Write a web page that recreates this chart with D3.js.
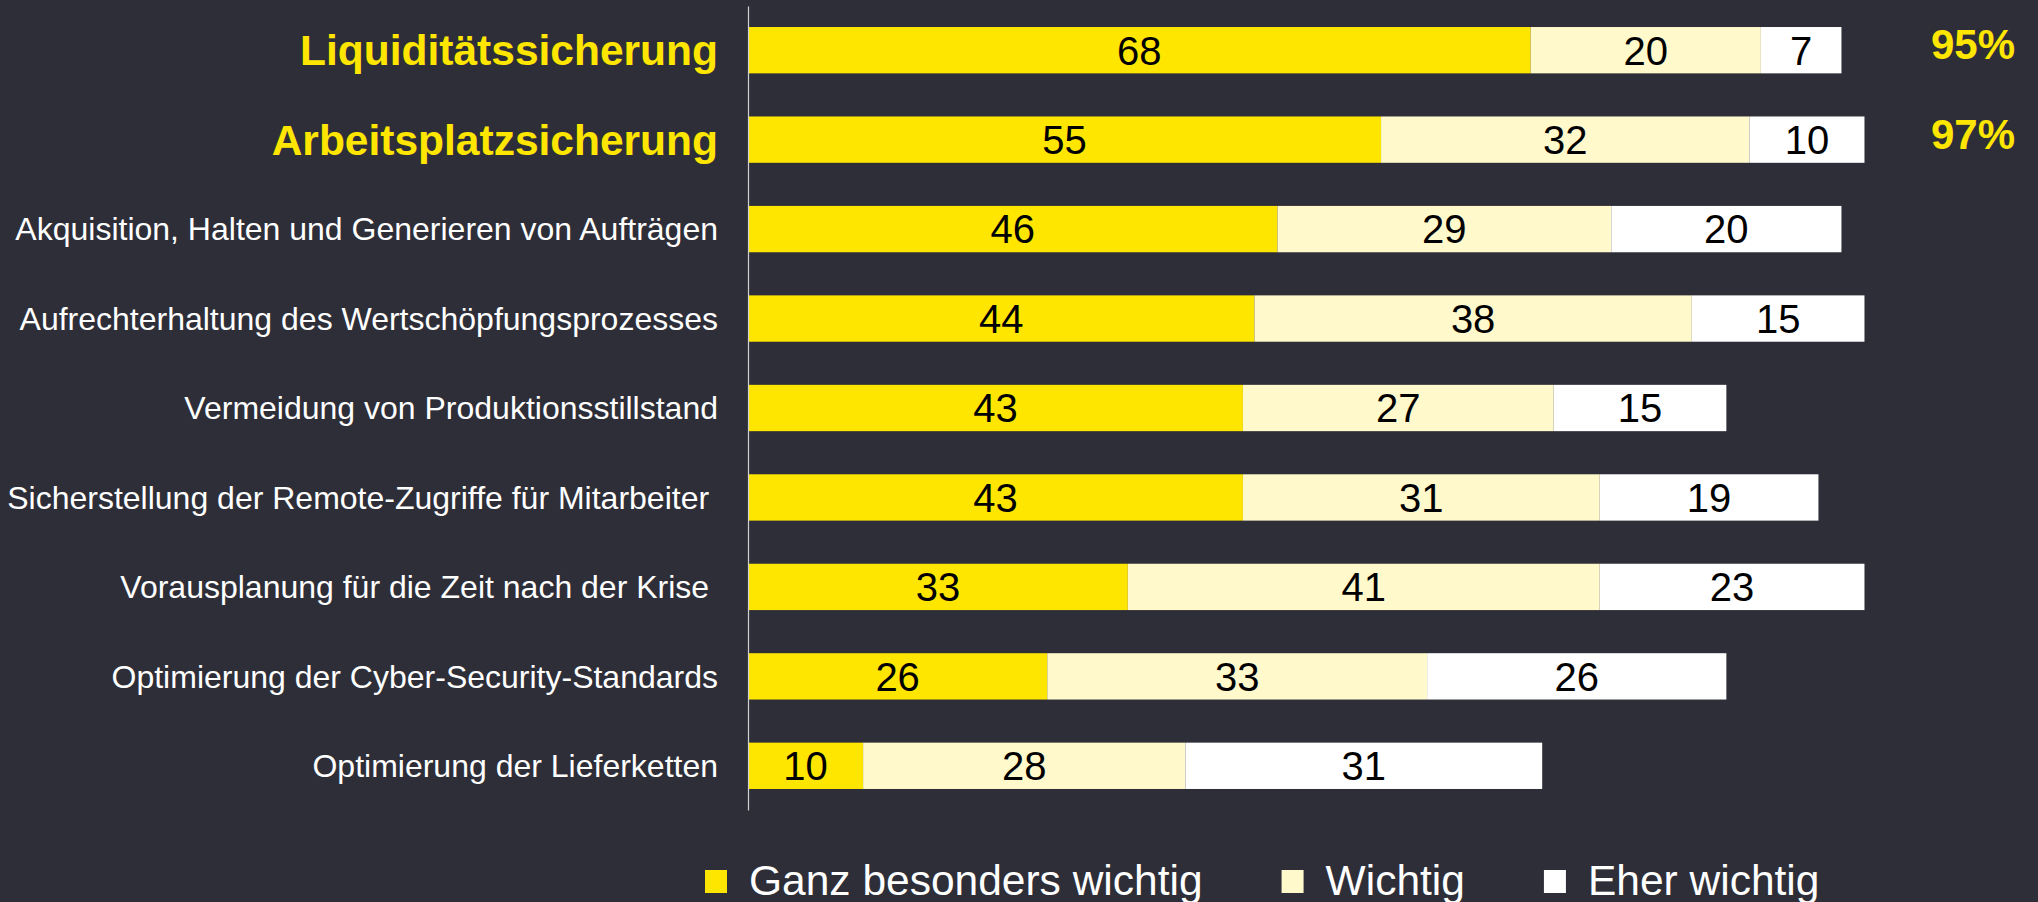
<!DOCTYPE html>
<html>
<head>
<meta charset="utf-8">
<script src="https://cdn.jsdelivr.net/npm/d3@7"></script>
<style>
  html, body { margin: 0; padding: 0; background: #2e2e38; }
  svg { display: block; }
  text { font-family: "Liberation Sans", Arial, sans-serif; white-space: pre; }
</style>
</head>
<body>
<div id="chart"></div>
<script>

var categories = [
  "Liquiditätssicherung",
  "Arbeitsplatzsicherung",
  "Akquisition, Halten und Generieren von Aufträgen",
  "Aufrechterhaltung des Wertschöpfungsprozesses",
  "Vermeidung von Produktionsstillstand",
  "Sicherstellung der Remote-Zugriffe für Mitarbeiter ",
  "Vorausplanung für die Zeit nach der Krise ",
  "Optimierung der Cyber-Security-Standards",
  "Optimierung der Lieferketten"
];
var highlighted = ["Liquiditätssicherung", "Arbeitsplatzsicherung"];
var ganzBesonders = [68, 55, 46, 44, 43, 43, 33, 26, 10];
var wichtig       = [20, 32, 29, 38, 27, 31, 41, 33, 28];
var eherWichtig   = [7, 10, 20, 15, 15, 19, 23, 26, 31];
var totalLabels   = ["95%", "97%"];
var seriesNames   = ["Ganz besonders wichtig", "Wichtig", "Eher wichtig"];

var width = 2038, height = 902;
var colors = ["#ffe600", "#fff9cc", "#ffffff"];
var axisX = 748;

var svg = d3.select("#chart").append("svg")
    .attr("width", width)
    .attr("height", height);

svg.append("rect")
    .attr("width", width)
    .attr("height", height)
    .attr("fill", "#2e2e38");

// stack the three answer groups
var rows = categories.map(function(c, i) {
  return { cat: c, s0: ganzBesonders[i], s1: wichtig[i], s2: eherWichtig[i] };
});
var stack = d3.stack().keys(["s0", "s1", "s2"]);
var layers = stack(rows);

var x = d3.scaleLinear()
    .domain([0, 100])
    .range([axisX, axisX + 1151]);

var y = d3.scaleBand()
    .domain(categories)
    .range([6, 810])
    .paddingInner(0.482)
    .paddingOuter(0.235);

// bars
var layer = svg.selectAll("g.layer")
    .data(layers)
    .enter().append("g")
    .attr("class", "layer")
    .attr("fill", function(d, i) { return colors[i]; });

layer.selectAll("rect")
    .data(function(d) { return d; })
    .enter().append("rect")
    .attr("x", function(d) { return x(d[0]); })
    .attr("y", function(d) { return y(d.data.cat); })
    .attr("width", function(d) { return x(d[1]) - x(d[0]); })
    .attr("height", y.bandwidth());

// value labels
layer.selectAll("text")
    .data(function(d) { return d; })
    .enter().append("text")
    .attr("x", function(d) { return (x(d[0]) + x(d[1])) / 2; })
    .attr("y", function(d) { return y(d.data.cat) + y.bandwidth() / 2; })
    .attr("dy", "0.36em")
    .attr("text-anchor", "middle")
    .attr("font-size", 40)
    .attr("fill", "#000")
    .text(function(d) { return d[1] - d[0]; });

// axis with category labels
var yAxis = d3.axisLeft(y)
    .tickSize(0)
    .tickSizeOuter(0)
    .tickPadding(30);

var gAxis = svg.append("g")
    .attr("transform", "translate(" + axisX + ",0)")
    .call(yAxis);

gAxis.select(".domain")
    .attr("stroke", "#d0d0d0")
    .attr("stroke-width", 1.2);

gAxis.selectAll(".tick text")
    .attr("font-family", null)
    .attr("fill", function(d) { return highlighted.indexOf(d) >= 0 ? "#ffe600" : "#ffffff"; })
    .attr("font-size", function(d) { return highlighted.indexOf(d) >= 0 ? 42.5 : 32; })
    .attr("font-weight", function(d) { return highlighted.indexOf(d) >= 0 ? "bold" : "normal"; })
    .attr("dy", "0.35em");

// totals for the highlighted rows
svg.selectAll("text.total")
    .data(totalLabels)
    .enter().append("text")
    .attr("class", "total")
    .attr("x", x(100) + 32)
    .attr("y", function(d, i) { return y(highlighted[i]) + y.bandwidth() / 2 - 6; })
    .attr("dy", "0.36em")
    .attr("font-size", 42)
    .attr("font-weight", "bold")
    .attr("fill", "#ffe600")
    .text(function(d) { return d; });

// legend
var legendX = 705, legendY = 870, legendGap = 79;
var legend = svg.append("g").attr("class", "legend");
var lx = legendX;
seriesNames.forEach(function(name, i) {
  legend.append("rect")
      .attr("x", lx)
      .attr("y", legendY)
      .attr("width", 22)
      .attr("height", 23)
      .attr("fill", colors[i]);
  var t = legend.append("text")
      .attr("x", lx + 44)
      .attr("y", 895)
      .attr("font-size", 42.5)
      .attr("fill", "#ffffff")
      .text(name);
  lx = lx + 44 + t.node().getComputedTextLength() + legendGap;
});

</script>
</body>
</html>
